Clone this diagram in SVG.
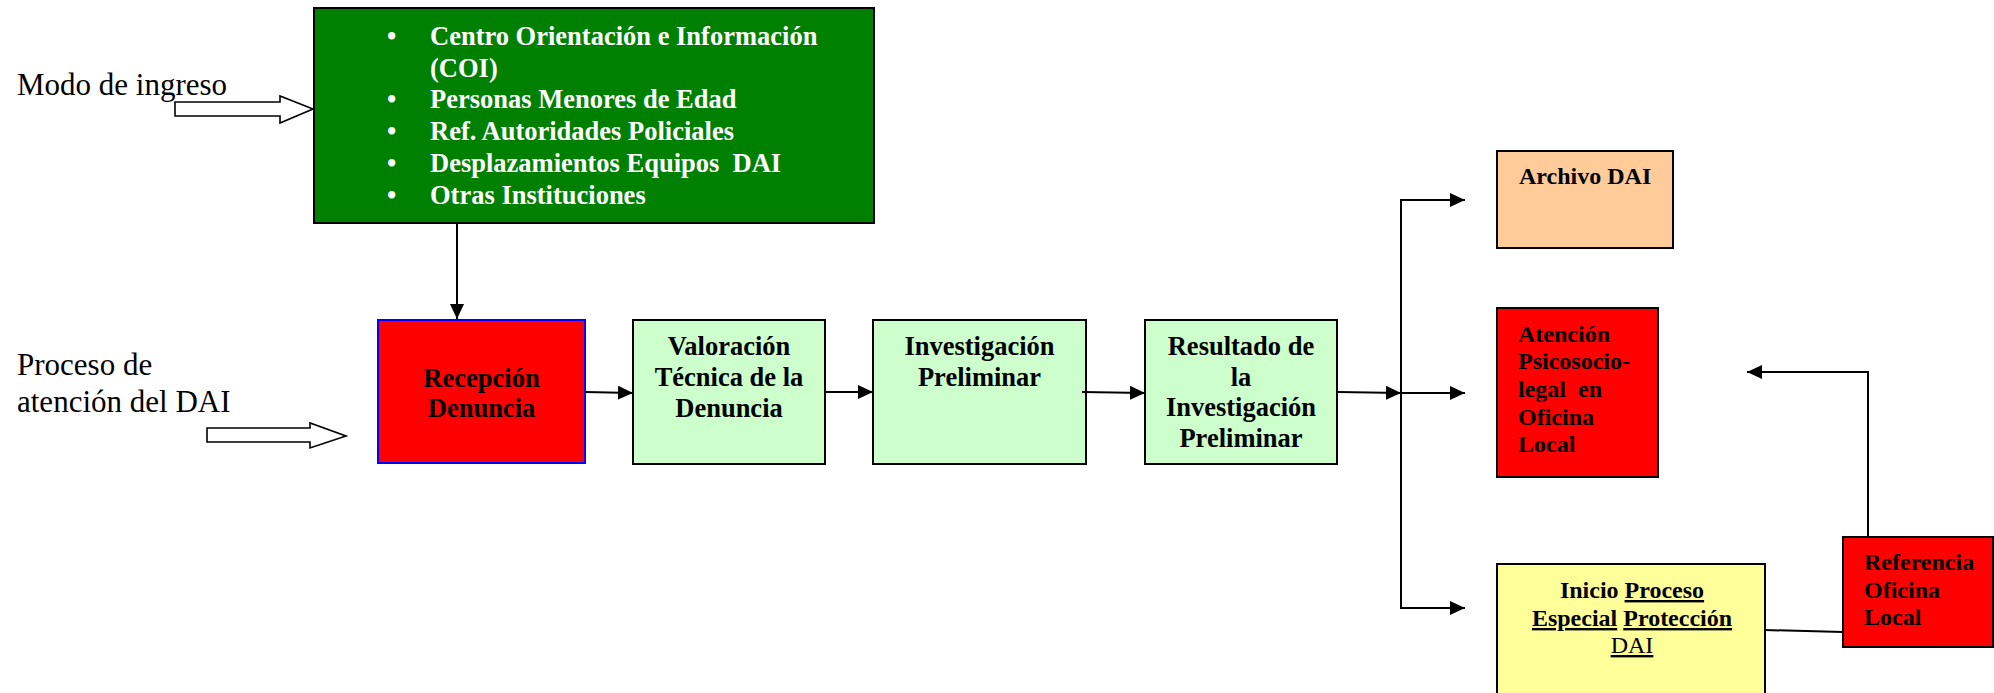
<svg xmlns="http://www.w3.org/2000/svg" width="1994" height="693" viewBox="0 0 1994 693">
<defs>
<style>
.box{stroke:#000;stroke-width:2}
.bt{font-family:"Liberation Serif","Times New Roman",serif;font-weight:bold;font-size:26.5px;fill:#000}
.st{font-family:"Liberation Serif","Times New Roman",serif;font-weight:bold;font-size:24px;fill:#000}
.lbl{font-family:"Liberation Serif","Times New Roman",serif;font-size:31px;fill:#000}
.wt{font-family:"Liberation Serif","Times New Roman",serif;font-weight:bold;font-size:26.5px;fill:#fff}
.c{fill:none;stroke:#000;stroke-width:2}
.ca{fill:none;stroke:#000;stroke-width:2;marker-end:url(#ah)}
.hollow{fill:#fff;stroke:#000;stroke-width:1.6}
</style>
<marker id="ah" markerUnits="userSpaceOnUse" markerWidth="15" markerHeight="14" refX="15" refY="7" orient="auto">
<path d="M0,0 L15,7 L0,14 z" fill="#000"/>
</marker>
</defs>
<rect width="1994" height="693" fill="#fff"/>

<g id="label-modo">
<text class="lbl" x="17" y="95">Modo de ingreso</text>
<polygon class="hollow" points="175,102 280,102 280,96 313,109 280,123 280,116 175,116"/>
</g>
<g id="label-proceso">
<text class="lbl" x="17" y="375">Proceso de</text>
<text class="lbl" x="17" y="412">atención del DAI</text>
<polygon class="hollow" points="207,428 310,428 310,423 346,436 310,448 310,442 207,442"/>
</g>

<g id="node-ingreso">
<rect class="box" x="314" y="8" width="560" height="215" fill="#008000"/>
<g class="wt">
<text x="387" y="44.5">•</text><text x="430" y="44.5">Centro Orientación e Información</text>
<text x="430" y="76.5">(COI)</text>
<text x="387" y="108">•</text><text x="430" y="108">Personas Menores de Edad</text>
<text x="387" y="140">•</text><text x="430" y="140">Ref. Autoridades Policiales</text>
<text x="387" y="172">•</text><text x="430" y="172" xml:space="preserve">Desplazamientos Equipos  DAI</text>
<text x="387" y="204">•</text><text x="430" y="204">Otras Instituciones</text>
</g>
</g>

<g id="node-recepcion">
<rect x="378" y="320" width="207" height="143" fill="#ff0000" stroke="#0000ff" stroke-width="2"/>
<text class="bt" text-anchor="middle" x="481.5" y="387">Recepción</text>
<text class="bt" text-anchor="middle" x="481.5" y="417">Denuncia</text>
</g>

<g id="node-valoracion">
<rect class="box" x="633" y="320" width="192" height="144" fill="#ccffcc"/>
<text class="bt" text-anchor="middle" x="729" y="355">Valoración</text>
<text class="bt" text-anchor="middle" x="729" y="386">Técnica de la</text>
<text class="bt" text-anchor="middle" x="729" y="417">Denuncia</text>
</g>

<g id="node-investigacion">
<rect class="box" x="873" y="320" width="213" height="144" fill="#ccffcc"/>
<text class="bt" text-anchor="middle" x="979.5" y="355">Investigación</text>
<text class="bt" text-anchor="middle" x="979.5" y="386">Preliminar</text>
</g>

<g id="node-resultado">
<rect class="box" x="1145" y="320" width="192" height="144" fill="#ccffcc"/>
<text class="bt" text-anchor="middle" x="1241" y="355">Resultado de</text>
<text class="bt" text-anchor="middle" x="1241" y="386">la</text>
<text class="bt" text-anchor="middle" x="1241" y="416">Investigación</text>
<text class="bt" text-anchor="middle" x="1241" y="447">Preliminar</text>
</g>

<g id="node-archivo">
<rect class="box" x="1497" y="151" width="176" height="97" fill="#ffcc99"/>
<text class="st" x="1519" y="184">Archivo DAI</text>
</g>

<g id="node-atencion">
<rect class="box" x="1497" y="308" width="161" height="169" fill="#ff0000"/>
<text class="st" x="1518" y="342">Atención</text>
<text class="st" x="1518" y="369">Psicosocio-</text>
<text class="st" x="1518" y="397" xml:space="preserve">legal  en</text>
<text class="st" x="1518" y="425">Oficina</text>
<text class="st" x="1518" y="452">Local</text>
</g>

<g id="node-inicio">
<rect class="box" x="1497" y="564" width="268" height="145" fill="#ffff99"/>
<text class="st" text-anchor="middle" x="1632" y="598">Inicio <tspan text-decoration="underline">Proceso</tspan></text>
<text class="st" text-anchor="middle" x="1632" y="626"><tspan text-decoration="underline">Especial</tspan> <tspan text-decoration="underline">Protección</tspan></text>
<text text-anchor="middle" x="1632" y="653" font-family="'Liberation Serif','Times New Roman',serif" font-size="24" text-decoration="underline">DAI</text>
</g>

<g id="node-referencia">
<rect class="box" x="1843" y="537" width="150" height="110" fill="#ff0000"/>
<text class="st" x="1864" y="570">Referencia</text>
<text class="st" x="1864" y="598">Oficina</text>
<text class="st" x="1864" y="625">Local</text>
</g>

<g id="connectors">
<path class="ca" d="M457,223 V319"/>
<path class="ca" d="M585,392 L633,393"/>
<path class="ca" d="M825,392 L873,392"/>
<path class="ca" d="M1082,392 L1145,393"/>
<path class="ca" d="M1338,392 L1401,393"/>
<path class="c" d="M1401,199 V609"/>
<path class="ca" d="M1400,200 H1465"/>
<path class="ca" d="M1401,393 H1465"/>
<path class="ca" d="M1400,608 H1465"/>
<path class="ca" d="M1868,537 V372 H1747"/>
<path class="c" d="M1765,630 L1843,632"/>
</g>
</svg>
